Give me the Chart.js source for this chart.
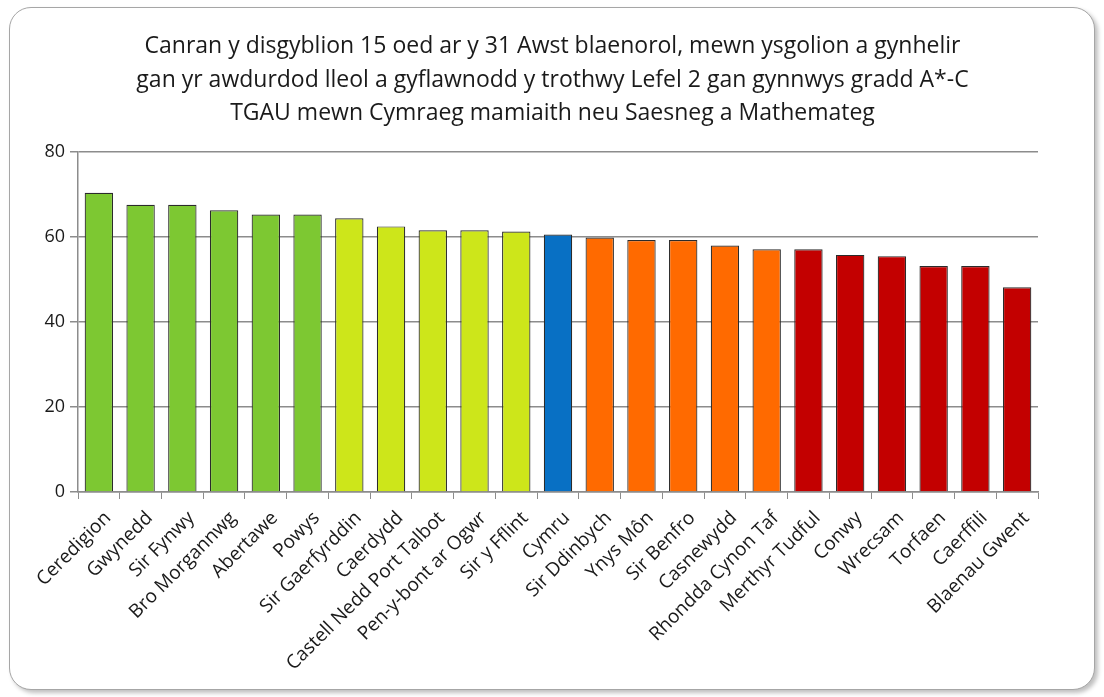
<!DOCTYPE html>
<html>
<head>
<meta charset="utf-8">
<script src="https://cdn.jsdelivr.net/npm/chart.js@4/dist/chart.umd.min.js"></script>
<style>
  html, body { margin: 0; padding: 0; background: #fff; }
  #frame {
    position: absolute; left: 9px; top: 7px; width: 1084px; height: 681px;
    border: 1.5px solid #a6a6a6; border-radius: 22px;
    box-shadow: 3px 3px 4px rgba(0,0,0,0.25);
    background: #fff;
  }
  #wrap { position: absolute; left: 0; top: 0; width: 1104px; height: 697px; }
</style>
</head>
<body>
<div id="frame"></div>
<div id="wrap"><canvas id="c" width="1104" height="697"></canvas></div>
<script>
const titleLines = [
  "Canran y disgyblion 15 oed ar y 31 Awst blaenorol, mewn ysgolion a gynhelir",
  "gan yr awdurdod lleol a gyflawnodd y trothwy Lefel 2 gan gynnwys gradd A*-C",
  "TGAU mewn Cymraeg mamiaith neu Saesneg a Mathemateg"
];
const categories = [
  "Ceredigion", "Gwynedd", "Sir Fynwy", "Bro Morgannwg", "Abertawe", "Powys",
  "Sir Gaerfyrddin", "Caerdydd", "Castell Nedd Port Talbot", "Pen-y-bont ar Ogwr",
  "Sir y Fflint", "Cymru", "Sir Ddinbych", "Ynys Môn", "Sir Benfro", "Casnewydd",
  "Rhondda Cynon Taf", "Merthyr Tudful", "Conwy", "Wrecsam", "Torfaen", "Caerffili",
  "Blaenau Gwent"
];
const values = [
  70.4, 67.6, 67.6, 66.3, 65.3, 65.3,
  64.4, 62.5, 61.6, 61.6,
  61.3, 60.6, 59.9, 59.3, 59.3, 58.0,
  57.1, 57.1, 55.8, 55.5, 53.2, 53.2,
  48.2
];
const groups = [
  "top", "top", "top", "top", "top", "top",
  "upper", "upper", "upper", "upper",
  "upper", "wales", "lower", "lower", "lower", "lower",
  "lower", "bottom", "bottom", "bottom", "bottom", "bottom",
  "bottom"
];
const groupColors = { top: "#7dc832", upper: "#cde61a", wales: "#0870c4", lower: "#ff6a00", bottom: "#c30000" };
const yTicks = [0, 20, 40, 60, 80];

const FONT = "'Open Sans', Lato, sans-serif";

new Chart(document.getElementById("c"), {
  type: "bar",
  data: {
    labels: categories,
    datasets: [{
      data: values,
      backgroundColor: groups.map(g => groupColors[g]),
      borderColor: "#2b2b2b",
      borderWidth: 1.2,
      categoryPercentage: 1.0,
      barPercentage: 0.68
    }]
  },
  options: {
    responsive: false,
    animation: false,
    layout: { padding: { left: 33, right: 32, top: 0, bottom: 0 } },
    plugins: {
      legend: { display: false },
      tooltip: { enabled: false },
      title: {
        display: true,
        text: titleLines,
        color: "#1a1a1a",
        font: { family: FONT, size: 23, weight: "normal", lineHeight: 1.45 },
        padding: { top: 30, bottom: 22 }
      }
    },
    scales: {
      x: {
        grid: { display: true, drawOnChartArea: false, offset: true, color: "#8c8c8c", tickLength: 7 },
        border: { color: "#8c8c8c", width: 1.5 },
        ticks: {
          color: "#1a1a1a",
          font: { family: FONT, size: 19 },
          minRotation: 45, maxRotation: 45, autoSkip: false, padding: 8, labelOffset: 9
        },
        afterFit: s => { s.height = 205; }
      },
      y: {
        min: 0, max: 80,
        afterBuildTicks: s => { s.ticks = yTicks.map(v => ({ value: v })); },
        grid: { color: "#8c8c8c", lineWidth: 1.5, tickLength: 8 },
        border: { color: "#8c8c8c", width: 1.5 },
        ticks: { color: "#1a1a1a", font: { family: FONT, size: 18 }, padding: 5 },
        afterFit: s => { s.width = 45; }
      },
      yPad: {
        position: "right",
        display: true,
        grid: { display: false, drawTicks: false },
        border: { display: false },
        ticks: { display: false },
        afterFit: s => { s.width = 34; }
      }
    }
  }
});
</script>
</body>
</html>
